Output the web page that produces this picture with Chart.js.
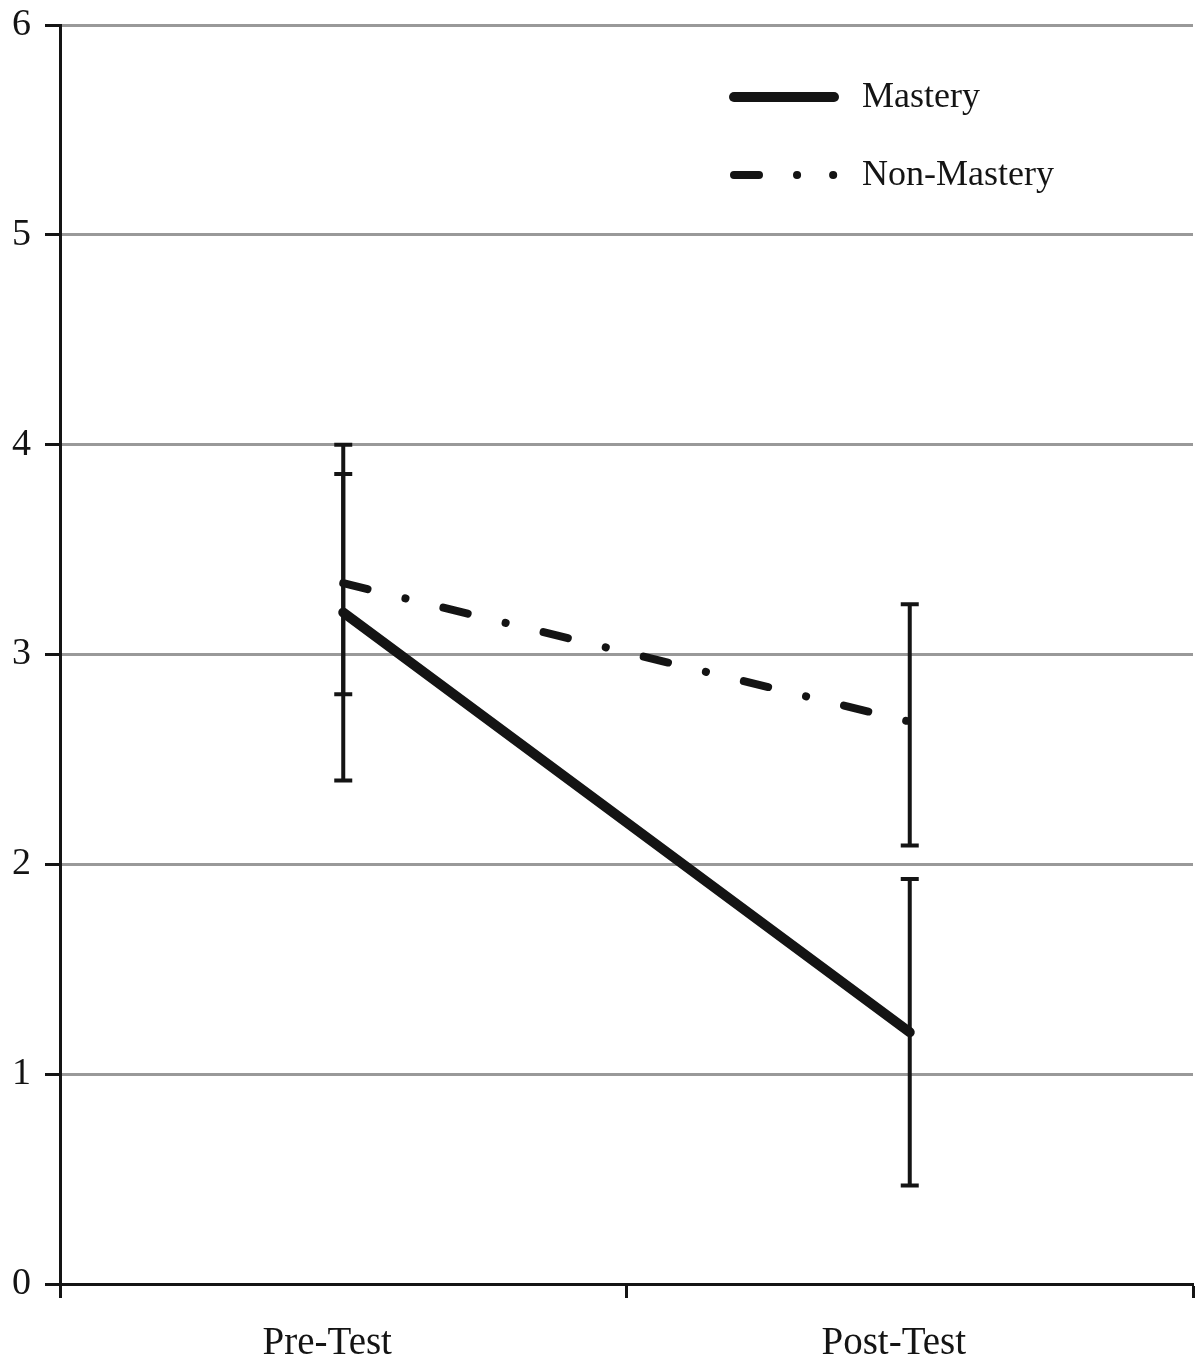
<!DOCTYPE html>
<html>
<head>
<meta charset="utf-8">
<script src="https://cdn.jsdelivr.net/npm/chart.js@4/dist/chart.umd.min.js"></script>
<style>
html,body{margin:0;padding:0;background:#fff;}
#wrap{width:1200px;height:1363px;position:relative;}
</style>
</head>
<body>
<div id="wrap"><canvas id="c" width="1200" height="1363"></canvas></div>
<script>
const categories = ["Pre-Test", "Post-Test"];
const seriesNames = ["Mastery", "Non-Mastery"];
const masteryMeans = [3.20, 1.20];
const masteryLow = [2.40, 0.47];
const masteryHigh = [4.00, 1.93];
const nonMasteryMeans = [3.34, 2.68];
const nonMasteryLow = [2.81, 2.09];
const nonMasteryHigh = [3.86, 3.24];
const yTicks = [0, 1, 2, 3, 4, 5, 6];

const SERIF = '"Liberation Serif", "Times New Roman", serif';
const INK = '#141414';

const errorBars = {
  id: 'errorBars',
  afterDatasetsDraw(chart) {
    const ctx = chart.ctx, xs = chart.scales.x, ys = chart.scales.y;
    const sets = [[masteryLow, masteryHigh], [nonMasteryLow, nonMasteryHigh]];
    ctx.save();
    ctx.strokeStyle = INK;
    ctx.lineWidth = 4;
    ctx.lineCap = 'butt';
    sets.forEach(([lo, hi]) => {
      categories.forEach((c, i) => {
        const x = xs.getPixelForValue(i);
        const y1 = ys.getPixelForValue(lo[i]);
        const y2 = ys.getPixelForValue(hi[i]);
        ctx.beginPath();
        ctx.moveTo(x, y1); ctx.lineTo(x, y2);
        ctx.moveTo(x - 9, y1); ctx.lineTo(x + 9, y1);
        ctx.moveTo(x - 9, y2); ctx.lineTo(x + 9, y2);
        ctx.stroke();
      });
    });
    ctx.restore();
  }
};

const legendDash = [[], [25, 38, 0.1, 36, 0.1, 200]];
const customLegend = {
  id: 'customLegend',
  afterDraw(chart) {
    const ctx = chart.ctx;
    ctx.save();
    ctx.fillStyle = INK;
    ctx.font = '36px ' + SERIF;
    ctx.textBaseline = 'middle';
    ctx.textAlign = 'left';
    chart.data.datasets.forEach((ds, i) => {
      const y = 97 + i * 78;
      ctx.beginPath();
      ctx.strokeStyle = ds.borderColor;
      ctx.lineWidth = ds.borderWidth;
      ctx.lineCap = 'round';
      ctx.setLineDash(legendDash[i]);
      ctx.moveTo(734, y);
      ctx.lineTo(834, y);
      ctx.stroke();
      ctx.setLineDash([]);
      ctx.fillText(ds.label, 862, y + 1);
    });
    ctx.restore();
  }
};

new Chart(document.getElementById('c'), {
  type: 'line',
  data: {
    labels: categories,
    datasets: [
      {
        label: seriesNames[0],
        data: masteryMeans,
        borderColor: INK,
        borderWidth: 10,
        borderCapStyle: 'round',
        pointRadius: 0,
        tension: 0
      },
      {
        label: seriesNames[1],
        data: nonMasteryMeans,
        borderColor: INK,
        borderWidth: 8,
        borderCapStyle: 'round',
        borderDash: [25, 39, 0.1, 39],
        pointRadius: 0,
        tension: 0
      }
    ]
  },
  options: {
    responsive: false,
    animation: false,
    layout: { padding: { top: 25, right: 7, left: 0, bottom: 0 } },
    plugins: { legend: { display: false }, tooltip: { enabled: false } },
    scales: {
      x: {
        type: 'category',
        offset: true,
        grid: {
          offset: true,
          drawOnChartArea: false,
          drawTicks: true,
          tickLength: 14,
          tickColor: INK,
          tickWidth: 3
        },
        border: { display: true, color: INK, width: 3 },
        ticks: {
          color: INK,
          font: { family: SERIF, size: 39 },
          padding: 22,
          labelOffset: -16
        },
        afterFit(scale) { scale.height = 79; scale.paddingLeft = 0; scale.paddingRight = 0; }
      },
      y: {
        min: 0,
        max: 6,
        afterBuildTicks(scale) { scale.ticks = yTicks.map(v => ({ value: v })); },
        grid: {
          color: '#999999',
          lineWidth: 3,
          drawTicks: true,
          tickLength: 15,
          tickColor: INK,
          tickWidth: 3
        },
        border: { display: true, color: INK, width: 3 },
        ticks: {
          color: INK,
          font: { family: SERIF, size: 38 },
          padding: 14
        },
        afterFit(scale) { scale.width = 60; scale.paddingTop = 0; scale.paddingBottom = 0; }
      }
    }
  },
  plugins: [errorBars, customLegend]
});
</script>
</body>
</html>
